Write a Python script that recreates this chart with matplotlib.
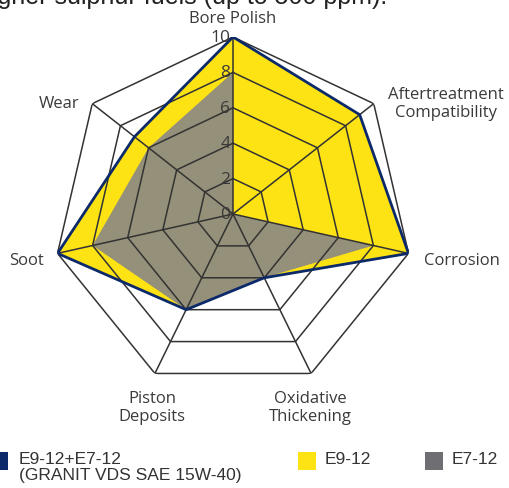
import numpy as np
import matplotlib
matplotlib.use("Agg")
import matplotlib.pyplot as plt
from matplotlib.patches import Rectangle

# data
categories = ["Bore Polish", "Aftertreatment\nCompatibility", "Corrosion",
              "Oxidative\nThickening", "Piston\nDeposits", "Soot", "Wear"]
combined = [10, 9, 10, 4, 6, 10, 7]   # E9-12+E7-12 (GRANIT VDS SAE 15W-40)
e9_12 = [10, 9, 10, 4, 6, 10, 7]
e7_12 = [8, 0, 8, 4, 6, 8, 6]
rings = [2, 4, 6, 8, 10]
tick_labels = ["0", "2", "4", "6", "8", "10"]

W, H = 509, 489
NAVY = "#0c2a6a"
YELLOW = "#fde314"
GRAY_FILL = "#959079"
GRAY_KEY = "#6f6e73"
GRID = "#333333"
TXT = "#3a3a3a"
LABEL_FONT = "Open Sans"

fig = plt.figure(figsize=(W / 100, H / 100), dpi=100)

# polar axes centred near the web centre, slightly wider than tall like the original
cx, cy, RX, RY = 233, 215, 180, 177
ax = fig.add_axes([(cx - RX) / W, 1 - (cy + RY) / H, 2 * RX / W, 2 * RY / H],
                  projection="polar")
ax.set_aspect("auto")
ax.set_theta_zero_location("N")
ax.set_theta_direction(-1)
ax.set_ylim(0, 10)
ax.axis("off")

n = len(categories)
angles = np.arange(n) * 2 * np.pi / n
closed = np.append(angles, angles[0])


def close(vals):
    return np.append(vals, vals[0])


ax.fill(closed, close(e9_12), color=YELLOW, zorder=1, lw=0)
ax.fill(closed, close(e7_12), color=GRAY_FILL, zorder=2, lw=0)

# heptagon grid and spokes
for r in rings:
    ax.plot(closed, [r] * (n + 1), color=GRID, lw=1.1, zorder=3)
for a in angles:
    ax.plot([a, a], [0, 10], color=GRID, lw=1.1, zorder=3)

ax.plot(closed, close(combined), color=NAVY, lw=2.0, zorder=4,
        solid_joinstyle="miter")

# scale numbers along the Bore Polish spoke
for i, lab in enumerate(tick_labels):
    ax.annotate(lab, xy=(0, i * 2), xytext=(-2, 0), textcoords="offset points",
                ha="right", va="center", fontsize=12.5, color=TXT,
                family=LABEL_FONT, zorder=5)

# category labels (pixel positions from the reference)
label_pos = [(233, 19), (446, 104), (462, 261), (310, 408),
             (152, 408), (27, 261), (59, 104)]
for lab, (px, py) in zip(categories, label_pos):
    fig.text(px / W, 1 - py / H, lab, ha="center", va="center",
             fontsize=12, color=TXT, family=LABEL_FONT, linespacing=1.1)

# cropped heading at the very top
fig.text(387 / W, 1 - 4 / H, "higher sulphur fuels (up to 500 ppm).",
         ha="right", va="baseline", fontsize=18, color="#222222",
         family="Liberation Sans")

# legend
keys = [(-10, NAVY, "E9-12+E7-12\n(GRANIT VDS SAE 15W-40)", 19),
        (298, YELLOW, "E9-12", 325),
        (425, GRAY_KEY, "E7-12", 452)]
for x0, col, txt, tx in keys:
    fig.add_artist(Rectangle((x0 / W, 1 - 471 / H), 18 / W, 18 / H,
                             transform=fig.transFigure, color=col, lw=0))
    fig.text(tx / W, 1 - 452 / H, txt, ha="left", va="top", fontsize=12.5,
             color="#333333", family="Liberation Sans", linespacing=1.05)

fig.savefig("out.png", dpi=100)
